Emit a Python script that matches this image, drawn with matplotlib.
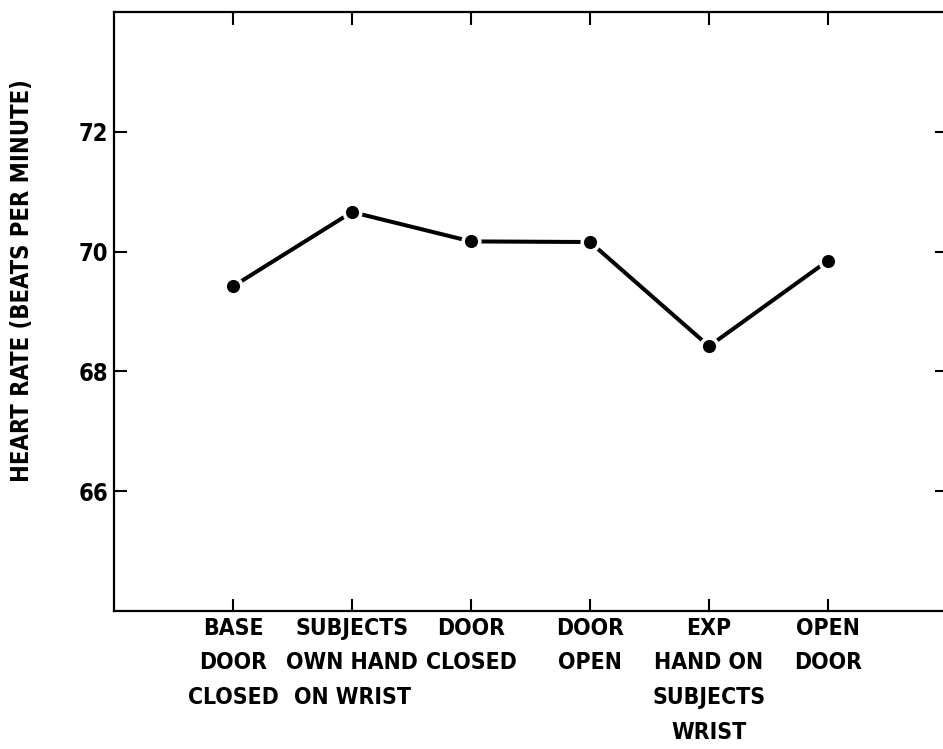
import matplotlib
matplotlib.use('Agg')
import matplotlib.pyplot as plt

categories = ["BASE\nDOOR\nCLOSED", "SUBJECTS\nOWN HAND\nON WRIST", "DOOR\nCLOSED",
              "DOOR\nOPEN", "EXP\nHAND ON\nSUBJECTS\nWRIST", "OPEN\nDOOR"]
heart_rate = [69.42, 70.66, 70.17, 70.16, 68.42, 69.85]
yticks = [66, 68, 70, 72]

plt.rcParams['font.family'] = ['DejaVu Sans']
plt.rcParams['font.stretch'] = 'condensed'
plt.rcParams['font.weight'] = 'bold'

fig = plt.figure(figsize=(9.43, 7.49), dpi=100)
ax = fig.add_axes([114/943, 138/749, (947-114)/943, (611-12)/749])

xs = list(range(1, len(heart_rate) + 1))
ax.plot(xs, heart_rate, color='black', lw=2.9, marker='o', ms=12,
        mfc='black', mec='white', mew=2.5)

ax.set_xlim(0, 7)
ax.set_ylim(64, 74)
ax.set_xticks(xs)
ax.set_xticklabels(categories, linespacing=1.66, fontsize=16.5)
ax.set_yticks(yticks)
ax.set_yticklabels([str(v) for v in yticks], fontsize=17)

ax.tick_params(direction='in', length=9, width=1.5, top=True, right=True, pad=4)
for s in ax.spines.values():
    s.set_linewidth(1.6)

fig.text(22/943, 1 - 281/749, "HEART RATE (BEATS PER MINUTE)", rotation=90,
         ha='center', va='center', fontsize=17)

fig.savefig('out.png', dpi=100)
